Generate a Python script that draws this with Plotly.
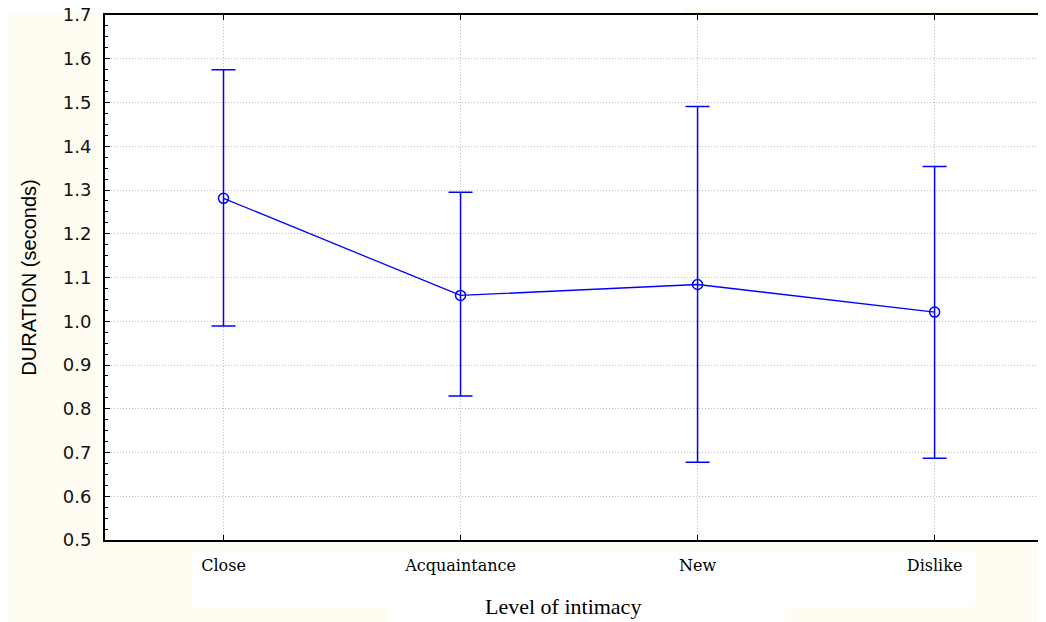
import plotly.graph_objects as go

categories = ["Close", "Acquaintance", "New", "Dislike"]
means = [1.281, 1.059, 1.084, 1.021]
upper = [1.575, 1.295, 1.491, 1.354]
lower = [0.989, 0.829, 0.678, 0.687]
y_ticks = [0.5, 0.6, 0.7, 0.8, 0.9, 1.0, 1.1, 1.2, 1.3, 1.4, 1.5, 1.6, 1.7]

err_plus = [u - m for u, m in zip(upper, means)]
err_minus = [m - l for m, l in zip(means, lower)]

OFF = 8  # default page body margin
W, H = 1046 - OFF, 622 - OFF
L, R, T, B = 105 - OFF, 0, 15 - OFF, 82
pw, ph = W - L - R, H - T - B

# convert screenshot pixel coordinates to paper coordinates
def px(x):
    return (x - OFF - L) / pw

def py(y):
    return (H - B - (y - OFF)) / ph

fig = go.Figure()
fig.add_trace(go.Scatter(
    x=list(range(len(categories))), y=means,
    mode="lines+markers",
    line=dict(color="#0000FF", width=1.3),
    marker=dict(symbol="circle-open", size=10, color="#0000FF", line=dict(width=1.5)),
    error_y=dict(type="data", symmetric=False, array=err_plus, arrayminus=err_minus,
                 color="#0000FF", thickness=1.5, width=12),
    showlegend=False, cliponaxis=False,
))

cream = "#FFFCF1"
shapes = []
def rect(x0, y0, x1, y1, color):
    shapes.append(dict(type="rect", xref="paper", yref="paper",
                       x0=px(x0), x1=px(x1), y0=py(y1), y1=py(y0),
                       fillcolor=color, line=dict(width=0), layer="below"))
rect(192, 552, 975, 607, "white")
rect(387, 607, 785, 640, "white")
rect(10, 0, 683, 13, "white")

grid = "#BDBDBD"
fig.update_layout(
    width=W, height=H,
    margin=dict(l=L, r=R, t=T, b=B, autoexpand=False),
    paper_bgcolor=cream, plot_bgcolor="white",
    shapes=shapes,
    xaxis=dict(
        range=[-0.5, 3.47], tickmode="array", tickvals=list(range(len(categories))),
        ticktext=categories, ticks="inside", ticklen=5, tickcolor="black",
        ticklabelstandoff=10, automargin=False,
        showline=True, linecolor="black", linewidth=2, mirror="ticks",
        showgrid=True, gridcolor=grid, griddash="1px,2px", gridwidth=1,
        tickfont=dict(family="DejaVu Serif, serif", size=16, color="black"),
        zeroline=False,
    ),
    yaxis=dict(
        range=[0.5, 1.7], tickmode="array", tickvals=y_ticks,
        ticktext=[f"{v:.1f}" for v in y_ticks],
        ticks="inside", ticklen=5, tickcolor="black",
        ticklabelstandoff=8, ticklabeloverflow="allow", automargin=False,
        minor=dict(dtick=0.025, ticks="inside", ticklen=3, tickcolor="black", showgrid=False),
        showline=True, linecolor="black", linewidth=2, mirror=False,
        showgrid=True, gridcolor=grid, griddash="1px,2px", gridwidth=1,
        tickfont=dict(family="DejaVu Sans, sans-serif", size=18, color="#111111"),
        title=dict(text="DURATION (seconds)", standoff=21,
                   font=dict(family="Liberation Sans, Arial, sans-serif", size=20, color="black")),
        zeroline=False,
    ),
    annotations=[dict(
        text="Level of intimacy", xref="paper", yref="paper",
        x=px(563), y=py(621), xanchor="center", yanchor="bottom", showarrow=False,
        font=dict(family="Liberation Serif, Times New Roman, serif", size=22, color="black"),
    )],
)

fig.write_html("out.html")
